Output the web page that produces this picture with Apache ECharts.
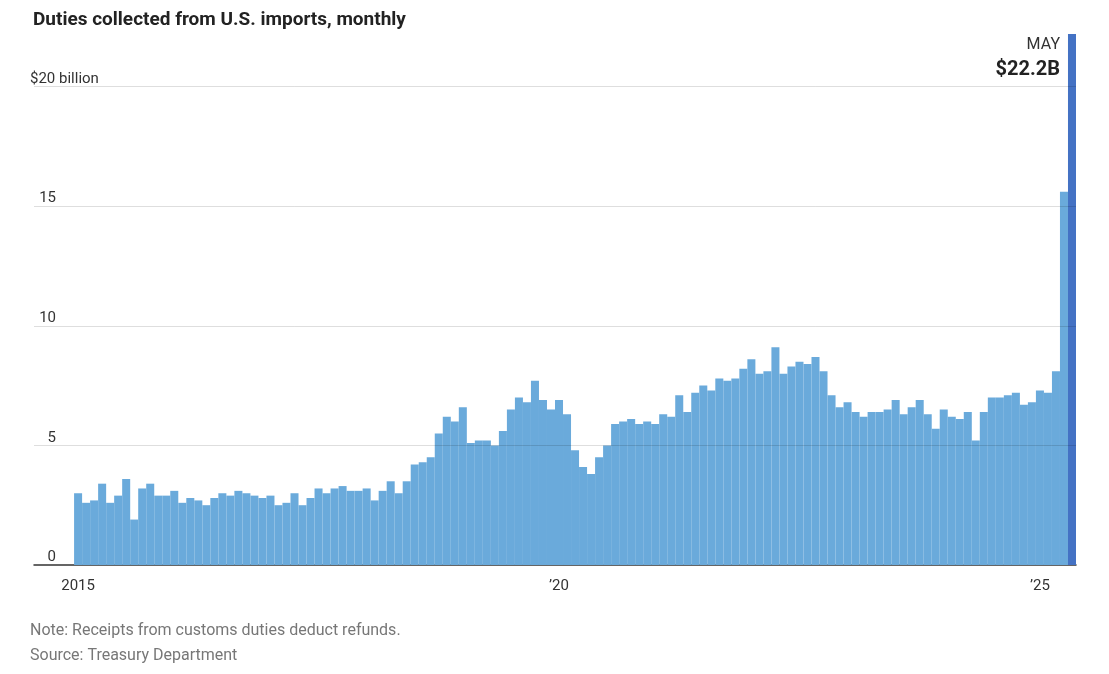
<!DOCTYPE html>
<html><head><meta charset="utf-8">
<script src="https://cdn.jsdelivr.net/npm/echarts@6/dist/echarts.min.js"></script>
<style>html,body{margin:0;padding:0;background:#fff}#c{width:1109px;height:674px}</style>
</head><body><div id="c"></div>
<script>
const years = [2015,2016,2017,2018,2019,2020,2021,2022,2023,2024,2025];
const v2015 = [3.0,2.6,2.7,3.4,2.6,2.9,3.6,1.9,3.2,3.4,2.9,2.9];
const v2016 = [3.1,2.6,2.8,2.7,2.5,2.8,3.0,2.9,3.1,3.0,2.9,2.8];
const v2017 = [2.9,2.5,2.6,3.0,2.5,2.8,3.2,3.0,3.2,3.3,3.1,3.1];
const v2018 = [3.2,2.7,3.1,3.5,3.0,3.5,4.2,4.3,4.5,5.5,6.2,6.0];
const v2019 = [6.6,5.1,5.2,5.2,5.0,5.6,6.5,7.0,6.8,7.7,6.9,6.5];
const v2020 = [6.9,6.3,4.8,4.1,3.8,4.5,5.0,5.9,6.0,6.1,5.9,6.0];
const v2021 = [5.9,6.3,6.2,7.1,6.4,7.2,7.5,7.3,7.8,7.7,7.8,8.2];
const v2022 = [8.6,8.0,8.1,9.1,8.0,8.3,8.5,8.4,8.7,8.1,7.1,6.6];
const v2023 = [6.8,6.4,6.2,6.4,6.4,6.5,6.9,6.3,6.6,6.9,6.3,5.7];
const v2024 = [6.5,6.2,6.1,6.4,5.2,6.4,7.0,7.0,7.1,7.2,6.7,6.8];
const v2025 = [7.3,7.2,8.1,15.6,22.2];
const padMonths = 5;
const yTicks = [5,10,15,20];

const all = [].concat(v2015,v2016,v2017,v2018,v2019,v2020,v2021,v2022,v2023,v2024,v2025);
const cats = [], vals = [];
for (let i=0;i<padMonths;i++){cats.push('p'+i);vals.push(null);}
all.forEach((v,i)=>{const y=2015+Math.floor(i/12), m=i%12+1; cats.push(y+'-'+m); vals.push(v);});
const lastIdx = vals.length-1;
const data = vals.map((v,i)=> i===lastIdx ? {value:v,itemStyle:{color:'#4472c4'},
  label:{show:true,position:[-8,0],align:'right',verticalAlign:'top',
  formatter:'{a|MAY}\n{b|$22.2B}',rich:{a:{fontSize:16,color:'#333',align:'right',lineHeight:22,fontFamily:'Roboto'},b:{fontSize:20,fontWeight:'bold',color:'#222',align:'right',lineHeight:28,fontFamily:'Roboto'}}}} : v);

const chart = echarts.init(document.getElementById('c'));
chart.setOption({
  animation:false,
  title:{text:'Duties collected from U.S. imports, monthly',left:28,top:6,
    textStyle:{fontSize:19,fontWeight:'bold',color:'#222',fontFamily:'Roboto'}},
  graphic:[
    {type:'text',left:30,top:623,style:{text:'Note: Receipts from customs duties deduct refunds.',fontSize:16,fill:'#777',fontFamily:'Roboto'}},
    {type:'text',left:30,top:648,style:{text:'Source: Treasury Department',fontSize:16,fill:'#777',fontFamily:'Roboto'}}
  ],
  grid:{left:34,right:33,top:34,bottom:109},
  xAxis:{type:'category',data:cats,boundaryGap:true,
    axisLine:{lineStyle:{color:'#333',width:1.5}},
    axisTick:{length:7,lineStyle:{color:'#333'},interval:(i)=> i>=padMonths && (i-padMonths)%12===0},
    axisLabel:{interval:(i)=> i>=padMonths && (i-padMonths)%60===0,color:'#333',fontSize:15,fontFamily:'Roboto',margin:14,
      formatter:(v)=>{const y=+v.split('-')[0]; return y===2015?'2015':"’"+String(y).slice(2);}}},
  yAxis:{type:'value',min:0,max:22.2,interval:5,
    splitLine:{show:false},axisLine:{show:false},axisTick:{show:false},
    axisLabel:{inside:true,verticalAlign:'bottom',margin:-4,color:'#333',fontSize:15,fontFamily:'Roboto',
      formatter:(v)=> v===20?'$20 billion':(v%5===0? '{n|'+v+'}':''),
      rich:{n:{width:26,align:'right',fontSize:15,color:'#333',fontFamily:'Roboto'}}}},
  series:[{type:'bar',data:data,barCategoryGap:'0%',barGap:'0%',itemStyle:{color:'#6aaadb'},
    markLine:{silent:true,symbol:'none',label:{show:false},
      lineStyle:{color:'rgba(0,0,0,0.13)',type:'solid',width:1},
      data:yTicks.map(t=>({yAxis:t}))}}]
});
</script></body></html>
